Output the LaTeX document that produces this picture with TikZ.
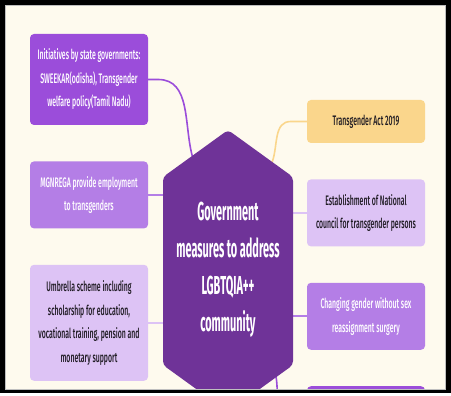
\documentclass[tikz,border=0pt]{standalone}
\usepackage{fontspec}
\setmainfont{Fira Sans Medium}[FakeStretch=0.5]
\newfontfamily\hubfont{Fira Sans}[FakeStretch=0.42]
\usetikzlibrary{positioning, calc}
\definecolor{cream}{HTML}{FEFAEE}
\definecolor{plum}{HTML}{9B4DDA}
\definecolor{orchid}{HTML}{B47EE6}
\definecolor{lavender}{HTML}{DDC3F5}
\definecolor{sand}{HTML}{FAD68C}
\definecolor{grape}{HTML}{6F3398}
\definecolor{ink}{HTML}{1E1A22}

\begin{document}
\begin{tikzpicture}[
  x=1pt, y=-1pt,
  node distance=36pt,
  card/.style 2 args={rectangle, rounded corners=4pt, fill=#1, text=#2,
    minimum width=118pt, inner sep=4pt, align=center,
    font=\fontsize{13.8}{23.5}\selectfont},
  link/.style={line width=1.6pt, draw=#1, line cap=round},
  hubtext/.style={text=white, align=center,
    font=\hubfont\fontsize{26}{37}\selectfont\bfseries}
]
\useasboundingbox (0,0) rectangle (451,396);

% ===== FRAME =====
\fill[white] (0,0) rectangle (451,396);
\fill[black] (0,0) rectangle (451,393);
\filldraw[fill=cream, draw=black!25, line width=0.6pt] (5,5) rectangle (445,389);

\begin{scope}
\clip (5.5,5.5) rectangle (444.5,389);

% ===== LEFT COLUMN =====
\node[card={plum}{white}, minimum height=91pt] (gov) at (89,79.5)
  {Initiatives by state governments:\\SWEEKAR(odisha), Transgender\\welfare policy(Tamil Nadu)};
\node[card={orchid}{white}, minimum height=67pt, below=of gov] (job)
  {MGNREGA provide employment\\to transgenders};
\node[card={lavender}{ink}, minimum height=116pt, below=of job] (aid)
  {Umbrella scheme including\\scholarship for education,\\vocational training, pension and\\monetary support};

% ===== RIGHT COLUMN =====
\node[card={sand}{ink}, minimum height=43pt] (act) at (366,121.5) {Transgender Act 2019};
\node[card={lavender}{ink}, minimum height=67pt, below=of act] (council)
  {Establishment of National\\council for transgender persons};
\node[card={orchid}{white}, minimum height=67pt, below=of council] (gender)
  {Changing gender without sex\\reassignment surgery};
\node[card={plum}{white}, minimum height=67pt, below=of gender] (more) {};

% ===== HEXAGON CORNERS =====
\coordinate (hexnw) at (163,177);
\coordinate (hextop) at (228,130);
\coordinate (hexne) at (293,177);
\coordinate (hexse) at (293,365);
\coordinate (hexbot) at (228,412);
\coordinate (hexsw) at (163,365);

% ===== CONNECTORS =====
\draw[link=plum] (gov.east) -- ++(10,0) to[out=0, in=105] ($(hexnw)!0.45!(hextop)$);
\draw[link=orchid] (job.east) -- (job.east -| hexnw);
\draw[link=lavender] (aid.east) -- (aid.east -| hexnw);
\draw[link=sand] (act.west) -- ++(-16,0) to[out=180, in=70] ($(hextop)!0.68!(hexne)$);
\draw[link=lavender] (council.west) -- (council.west -| hexne);
\draw[link=orchid] (gender.west) -- (gender.west -| hexne);
\draw[link=plum] (more.west) -- ++(-16,0) to[out=180, in=-80] ($(hexse)!0.26!(hexbot)$);

% ===== CENTRAL HEXAGON =====
\fill[grape, rounded corners=4pt] (hexnw) -- (hextop) -- (hexne) -- (hexse)
  -- (hexbot) -- (hexsw) -- cycle;
\node[hubtext] (hub) at (228,270)
  {Government\\measures to address\\LGBTQIA++\\community};
\end{scope}
\end{tikzpicture}
\end{document}
